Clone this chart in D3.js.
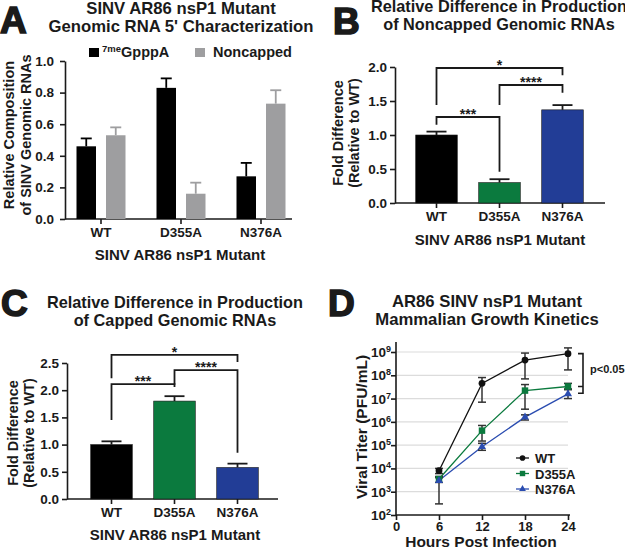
<!DOCTYPE html>
<html>
<head>
<meta charset="utf-8">
<script src="https://cdn.jsdelivr.net/npm/d3@7"></script>
<style>
  body { margin: 0; background: #fff; }
  text { font-family: "Liberation Sans", Arial, sans-serif; font-weight: bold; fill: #1a1a1a; }
</style>
</head>
<body>
<div id="graph"></div>
<script>
// ---- data ----
const mutants = ["WT", "D355A", "N376A"];

// A: relative composition of genomic RNAs
const cappedShare = [0.46, 0.83, 0.27];
const cappedShareErr = [0.05, 0.06, 0.085];
const noncappedShare = [0.53, 0.16, 0.73];
const noncappedShareErr = [0.05, 0.07, 0.085];
const shareTicks = [0, 0.2, 0.4, 0.6, 0.8, 1.0];

// B: noncapped fold difference
const noncappedFold = [1.0, 0.30, 1.37];
const noncappedFoldErr = [0.05, 0.05, 0.07];
const noncappedTicks = [0, 0.5, 1.0, 1.5, 2.0];
const noncappedBrackets = [
  { a: 0, b: 1, y: 1.265, legA: 1.15, legB: 0.46, label: "***" },
  { a: 1, b: 2, y: 1.735, legA: 1.44, legB: 1.62, label: "****" },
  { a: 0, b: 2, y: 1.985, legA: 1.44, legB: 1.88, label: "*" }
];

// C: capped fold difference
const cappedFold = [1.0, 1.80, 0.58];
const cappedFoldErr = [0.06, 0.09, 0.07];
const cappedTicks = [0, 0.5, 1.0, 1.5, 2.0, 2.5];
const cappedBrackets = [
  { a: 0, b: 1, y: 2.11, legA: 1.45, legB: 2.06, label: "***" },
  { a: 1, b: 2, y: 2.37, legA: 2.10, legB: 0.85, label: "****" },
  { a: 0, b: 2, y: 2.65, legA: 2.22, legB: 2.52, label: "*" }
];

const barColors = ["#000000", "#0b7a3e", "#223d96"];

// D: growth kinetics
const hours = [6, 12, 18, 24];
const hourTicks = [0, 6, 12, 18, 24];
const titerWT = [8.0e3, 4.5e7, 4.5e8, 8.5e8];
const titerWTLo = [6.0e3, 7.0e6, 7.0e7, 1.7e8];
const titerWTHi = [1.0e4, 8.0e7, 9.0e8, 1.5e9];
const titerD355A = [3.5e3, 4.2e5, 2.2e7, 3.3e7];
const titerD355ALo = [2.5e3, 1.5e5, 3.5e6, 2.4e7];
const titerD355AHi = [4.5e3, 7.0e5, 4.0e7, 4.5e7];
const titerN376A = [3.0e3, 8.5e4, 1.6e6, 1.6e7];
const titerN376ALo = [3.0e2, 6.0e4, 1.2e6, 1.0e7];
const titerN376AHi = [4.0e3, 1.2e5, 2.0e6, 2.6e7];
const titerTicks = [1e2, 1e3, 1e4, 1e5, 1e6, 1e7, 1e8, 1e9];

const svg = d3.select("#graph").append("svg")
  .attr("width", 625).attr("height", 549)
  .style("display", "block");
svg.append("rect").attr("width", 625).attr("height", 549).attr("fill", "#fff");

const ink = "#1a1a1a";

function panelLetter(x, y, s) {
  svg.append("text").attr("x", x).attr("y", y)
    .style("font-size", "37px").attr("stroke", ink).attr("stroke-width", 1.6)
    .text(s);
}

function title(cx, y, lines, size) {
  lines.forEach((l, i) => {
    svg.append("text").attr("x", cx).attr("y", y + i * 17.5)
      .attr("text-anchor", "middle").style("font-size", size + "px").text(l);
  });
}

function yTitle(cx, cy, lines, size, gap) {
  lines.forEach((l, i) => {
    svg.append("text")
      .attr("transform", `translate(${cx + i * gap},${cy}) rotate(-90)`)
      .attr("text-anchor", "middle").style("font-size", size + "px").text(l);
  });
}

function styleAxis(g) {
  g.selectAll("path, line").attr("stroke", ink).attr("stroke-width", 1.6);
  g.selectAll("text").style("font-size", "13.5px").attr("fill", ink);
}

function errBar(g, x, y0, y1, half, color, w) {
  g.append("line").attr("x1", x).attr("x2", x).attr("y1", y0).attr("y2", y1)
    .attr("stroke", color).attr("stroke-width", w);
  g.append("line").attr("x1", x - half).attr("x2", x + half).attr("y1", y1).attr("y2", y1)
    .attr("stroke", color).attr("stroke-width", w);
}

// ---------------- Panel A ----------------
(function () {
  const x0 = 65, x1 = 292, yTop = 61, yBot = 219;
  const x = d3.scaleBand().domain(mutants).range([61, 301]);
  const y = d3.scaleLinear().domain([0, 1]).range([yBot, yTop]);
  const g = svg.append("g");

  const yAx = g.append("g").attr("transform", `translate(${x0},0)`)
    .call(d3.axisLeft(y).tickValues(shareTicks).tickFormat(d3.format(".1f"))
      .tickSize(5).tickPadding(6).tickSizeOuter(0));
  styleAxis(yAx);
  const xAx = g.append("g").attr("transform", `translate(0,${yBot})`)
    .call(d3.axisBottom(x).tickSize(5).tickSizeOuter(0));
  xAx.select(".domain").attr("d", `M${x0},0H${x1}`);
  styleAxis(xAx);

  const bw = 19.5;
  const series = [
    { v: cappedShare, e: cappedShareErr, c: "#000", dx: -24.5 },
    { v: noncappedShare, e: noncappedShareErr, c: "#9e9ea0", dx: 5 }
  ];
  series.forEach(s => {
    mutants.forEach((m, i) => {
      const cx = x(m) + x.bandwidth() / 2 + s.dx;
      errBar(g, cx + bw / 2, y(s.v[i]), y(s.v[i] + s.e[i]), 5.5, s.c, 1.8);
      g.append("rect").attr("x", cx).attr("y", y(s.v[i]))
        .attr("width", bw).attr("height", y(0) - y(s.v[i])).attr("fill", s.c);
    });
  });

  // legend
  g.append("rect").attr("x", 89).attr("y", 48).attr("width", 10).attr("height", 9).attr("fill", "#000");
  const lt = g.append("text").attr("x", 102).attr("y", 57).style("font-size", "14.5px");
  lt.append("tspan").style("font-size", "9.5px").attr("dy", "-5").text("7me");
  lt.append("tspan").attr("dy", "5").text("GpppA");
  g.append("rect").attr("x", 195).attr("y", 48).attr("width", 10).attr("height", 9).attr("fill", "#9e9ea0");
  g.append("text").attr("x", 213).attr("y", 57).style("font-size", "14.5px").text("Noncapped");

  panelLetter(0, 33, "A");
  title(181, 14, ["SINV AR86 nsP1 Mutant", "Genomic RNA 5' Characterization"], 16.7);
  yTitle(14, 135, ["Relative Composition", "of SINV Genomic RNAs"], 14.5, 17);
  g.append("text").attr("x", 180).attr("y", 260).attr("text-anchor", "middle")
    .style("font-size", "15px").text("SINV AR86 nsP1 Mutant");
})();

// ---------------- Panels B and C ----------------
function foldPanel(o) {
  const x = d3.scaleBand().domain(mutants).range([o.bandStart, o.bandStart + 63 * 3]).paddingInner(0.34).paddingOuter(0.17);
  const y = d3.scaleLinear().domain([0, o.max]).range([o.yBot, o.yTop]);
  const g = svg.append("g");

  const yAx = g.append("g").attr("transform", `translate(${o.x0},0)`)
    .call(d3.axisLeft(y).tickValues(o.ticks).tickFormat(d3.format(".1f")).tickSize(5).tickSizeOuter(0));
  styleAxis(yAx);
  const xAx = g.append("g").attr("transform", `translate(0,${o.yBot})`)
    .call(d3.axisBottom(x).tickSize(5).tickSizeOuter(0));
  xAx.select(".domain").attr("d", `M${o.x0},0H${o.x1}`);
  styleAxis(xAx);

  mutants.forEach((m, i) => {
    const cx = x(m) + x.bandwidth() / 2;
    errBar(g, cx, y(o.values[i]), y(o.values[i] + o.errs[i]), 10, ink, 1.8);
    g.append("rect").attr("x", x(m)).attr("y", y(o.values[i]))
      .attr("width", x.bandwidth()).attr("height", y(0) - y(o.values[i]))
      .attr("fill", barColors[i]).attr("stroke", ink).attr("stroke-width", 0.6);
  });

  o.brackets.forEach(b => {
    const xa = x(mutants[b.a]) + x.bandwidth() / 2, xb = x(mutants[b.b]) + x.bandwidth() / 2;
    g.append("path")
      .attr("d", `M${xa},${y(b.legA)}V${y(b.y)}H${xb}V${y(b.legB)}`)
      .attr("fill", "none").attr("stroke", ink).attr("stroke-width", 1.8);
    g.append("text").attr("x", (xa + xb) / 2).attr("y", y(b.y) + 2)
      .attr("text-anchor", "middle").style("font-size", "14px").text(b.label);
  });

  panelLetter(o.letterX, o.letterY, o.letter);
  title(o.titleX, o.titleY, o.titleLines, 16.3);
  yTitle(o.ytX, o.ytY, ["Fold Difference", "(Relative to WT)"], 14.5, 15.5);
  g.append("text").attr("x", o.xtX).attr("y", o.xtY).attr("text-anchor", "middle")
    .style("font-size", "15px").text("SINV AR86 nsP1 Mutant");
}

foldPanel({
  values: noncappedFold, errs: noncappedFoldErr, ticks: noncappedTicks, brackets: noncappedBrackets,
  max: 2.0, x0: 395, x1: 605, yTop: 67, yBot: 203, bandStart: 405,
  letter: "B", letterX: 333, letterY: 34,
  titleX: 499, titleY: 12, titleLines: ["Relative Difference in Production", "of Noncapped Genomic RNAs"],
  ytX: 343, ytY: 133, xtX: 500, xtY: 245
});

foldPanel({
  values: cappedFold, errs: cappedFoldErr, ticks: cappedTicks, brackets: cappedBrackets,
  max: 2.5, x0: 67, x1: 278, yTop: 363, yBot: 499, bandStart: 80,
  letter: "C", letterX: 1, letterY: 316,
  titleX: 175, titleY: 308, titleLines: ["Relative Difference in Production", "of Capped Genomic RNAs"],
  ytX: 18, ytY: 433, xtX: 175, xtY: 540
});

// ---------------- Panel D ----------------
(function () {
  const x = d3.scaleLinear().domain([0, 24]).range([396, 568]);
  const y = d3.scaleLog().domain([1e2, 1e9]).range([515, 352]);
  const g = svg.append("g");

  // gridlines
  g.append("g").selectAll("line").data(titerTicks.slice(1)).join("line")
    .attr("x1", 397).attr("x2", 568).attr("y1", d => y(d)).attr("y2", d => y(d))
    .attr("stroke", "#dcdcdc").attr("stroke-width", 1.2);

  const yAx = g.append("g").attr("transform", "translate(396,0)")
    .call(d3.axisLeft(y).tickValues(titerTicks).tickFormat("").tickSize(5).tickSizeOuter(0));
  yAx.select(".domain").attr("d", "M0,515V342");
  styleAxis(yAx);
  titerTicks.forEach(t => {
    const tx = g.append("text").attr("x", 391).attr("y", y(t) + 5)
      .attr("text-anchor", "end").style("font-size", "13.5px");
    tx.append("tspan").text("10");
    tx.append("tspan").attr("dy", "-5").style("font-size", "9px").text(Math.round(Math.log10(t)));
  });

  const xAx = g.append("g").attr("transform", "translate(0,515)")
    .call(d3.axisBottom(x).tickValues(hourTicks).tickSize(5).tickPadding(2).tickSizeOuter(0));
  xAx.select(".domain").attr("d", "M396,0H570");
  styleAxis(xAx);
  xAx.selectAll("text").style("font-size", "13px");

  const series = [
    { v: titerWT, lo: titerWTLo, hi: titerWTHi, c: "#111", shape: d3.symbolCircle, size: 36, name: "WT" },
    { v: titerD355A, lo: titerD355ALo, hi: titerD355AHi, c: "#0b7a3e", shape: d3.symbolSquare, size: 42, name: "D355A" },
    { v: titerN376A, lo: titerN376ALo, hi: titerN376AHi, c: "#2a4cb0", shape: d3.symbolTriangle, size: 28, name: "N376A" }
  ];
  const line = d3.line().x((d, i) => x(hours[i])).y(d => y(d));

  series.slice().reverse().forEach(s => {
    g.append("path").attr("d", line(s.v)).attr("fill", "none")
      .attr("stroke", s.c).attr("stroke-width", 1.3);
  });
  series.forEach(s => {
    hours.forEach((h, i) => {
      const cx = x(h);
      [s.lo[i], s.hi[i]].forEach(e => {
        g.append("line").attr("x1", cx).attr("x2", cx).attr("y1", y(s.v[i])).attr("y2", y(e))
          .attr("stroke", "#333").attr("stroke-width", 1.5);
        g.append("line").attr("x1", cx - 4).attr("x2", cx + 4).attr("y1", y(e)).attr("y2", y(e))
          .attr("stroke", "#333").attr("stroke-width", 1.5);
      });
    });
  });
  series.forEach(s => {
    g.append("g").selectAll("path").data(s.v).join("path")
      .attr("transform", (d, i) => `translate(${x(hours[i])},${y(d)})`)
      .attr("d", d3.symbol().type(s.shape).size(s.size)).attr("fill", s.c);
  });

  // legend
  series.forEach((s, i) => {
    const ly = 458 + i * 15.5;
    g.append("line").attr("x1", 516).attr("x2", 529).attr("y1", ly).attr("y2", ly)
      .attr("stroke", s.c).attr("stroke-width", 1.3);
    g.append("path").attr("transform", `translate(522.5,${ly})`)
      .attr("d", d3.symbol().type(s.shape).size(s.size * 0.7)).attr("fill", s.c);
    g.append("text").attr("x", 535).attr("y", ly + 5).style("font-size", "13px").text(s.name);
  });

  // significance bracket
  const bx = 583, bTop = y(titerWT[3]), bMid = y(titerD355A[3]), bBot = y(titerN376A[3]) - 0.5;
  g.append("path")
    .attr("d", `M${bx - 5},${bTop}H${bx}V${bBot}H${bx - 5}M${bx - 5},${bMid}H${bx}`)
    .attr("fill", "none").attr("stroke", ink).attr("stroke-width", 1.6);
  g.append("text").attr("x", 590).attr("y", 373).style("font-size", "11px").text("p<0.05");

  panelLetter(328, 316, "D");
  title(487, 307, ["AR86 SINV nsP1 Mutant", "Mammalian Growth Kinetics"], 16.7);
  yTitle(367, 427, ["Viral Titer (PFU/mL)"], 15.5, 0);
  g.append("text").attr("x", 481).attr("y", 547).attr("text-anchor", "middle")
    .style("font-size", "15.5px").text("Hours Post Infection");
})();
</script>
</body>
</html>
